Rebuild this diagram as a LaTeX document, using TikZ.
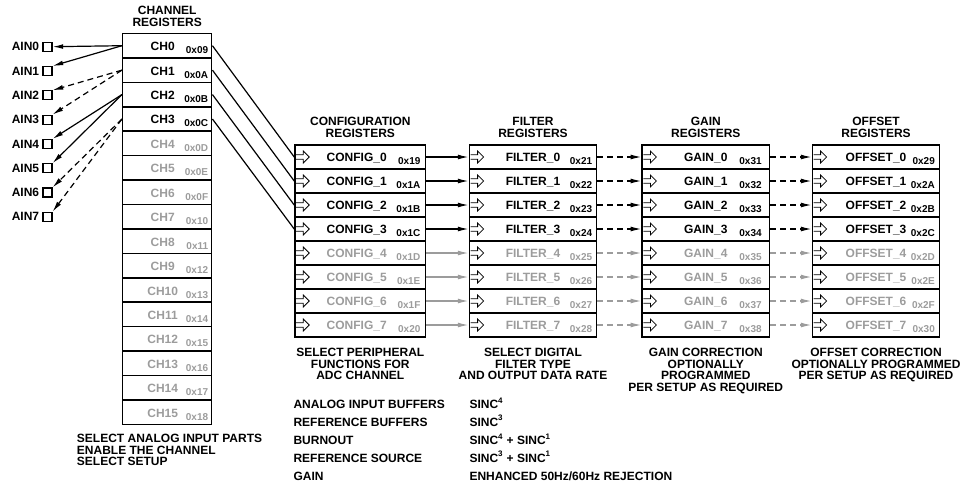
\documentclass[tikz,border=0pt]{standalone}
\usepackage{fontspec}
\setmainfont{Liberation Sans}
\usetikzlibrary{arrows.meta,positioning,calc}
\definecolor{regray}{HTML}{9C9C9C}

\begin{document}
\begin{tikzpicture}[
  x=0.75pt, y=-0.75pt,
  every node/.style={font=\bfseries\fontsize{9}{8.6}\selectfont, inner sep=0pt},
  chrow/.style={draw, line width=1.1pt, minimum width=66.75pt, minimum height=18.32pt},
  cfgrow/.style={draw, line width=1.1pt, minimum width=98pt, minimum height=18pt},
  regrow/.style={draw, line width=1.1pt, minimum width=95.5pt, minimum height=18pt},
  regname/.style={anchor=base},
  hex/.style={anchor=base east, font=\bfseries\fontsize{7.5}{8}\selectfont},
  regtitle/.style={align=center},
  note/.style={align=center, font=\bfseries\fontsize{9}{8.75}\selectfont},
  ainbox/.style={draw, line width=0.8pt, minimum size=6.75pt},
  arr/.style={-{Latex[length=8pt,width=3.6pt]}, line width=0.9pt},
  dasharr/.style={arr, dash pattern=on 4.5pt off 3pt},
  wire/.style={line width=0.9pt},
  inarrow/.pic={\draw[line width=0.6pt] (0,-2.2)--(7,-2.2)--(7,-6)--(13,0)--(7,6)--(7,2.2)--(0,2.2);}
]
\useasboundingbox (0,0) rectangle (960,483);

% channel registers
\foreach \n/\hx in {0/09,1/0A,2/0B,3/0C,4/0D,5/0E,6/0F,7/10,8/11,9/12,10/13,11/14,12/15,13/16,14/17,15/18} {
  \ifnum\n<4 \def\tc{black}\else\def\tc{regray}\fi
  \node[chrow] (ch\n) at (167.2, 45.7+24.43*\n) {};
  \node[regname, text=\tc] (chname\n) at ($(ch\n.center)+(-4.5,5)$) {CH\n};
  \node[hex, text=\tc] (chhex\n) at ($(ch\n.east)+(-4,8)$) {0x\hx};
}
\node[regtitle, above=4.6pt of ch0] (chtitle) {CHANNEL\\REGISTERS};

% analog inputs
\foreach \n in {0,...,7} {
  \node[ainbox] (ain\n) at (47.5, 46.7+24.3*\n) {};
  \node[left=2.3pt of ain\n] (ainlbl\n) {AIN\n};
}
\draw[arr] (ch0.west) -- (ain0.east);
\draw[arr] (ch0.west) -- (ain1.north east);
\draw[dasharr] (ch1.west) -- (ain2.north east);
\draw[dasharr] (ch1.west) -- (ain3.north east);
\draw[arr] (ch2.west) -- (ain4.north east);
\draw[arr] (ch2.west) -- (ain5.north east);
\draw[dasharr] (ch3.west) -- (ain6.north east);
\draw[dasharr] (ch3.west) -- (ain7.north east);

% setup registers
\foreach \n/\cf/\fl/\gn/\of in {0/19/21/31/29,1/1A/22/32/2A,2/1B/23/33/2B,3/1C/24/34/2C,4/1D/25/35/2D,5/1E/26/36/2E,6/1F/27/37/2F,7/20/28/38/30} {
  \ifnum\n<4 \def\tc{black}\else\def\tc{regray}\fi
  \node[cfgrow] (cfg\n) at (360.3, 157+24*\n) {};
  \node[regrow] (flt\n) at (533, 157+24*\n) {};
  \node[regrow] (gain\n) at (705.8, 157+24*\n) {};
  \node[regrow] (ofs\n) at (876, 157+24*\n) {};
  \foreach \r in {cfg,flt,gain,ofs} \pic at ($(\r\n.west)+(2,0)$) {inarrow};
  \node[regname, text=\tc] (cfgname\n) at ($(cfg\n.center)+(-3.6,4.7)$) {CONFIG\_\n};
  \node[regname, text=\tc] (fltname\n) at ($(flt\n.center)+(0,4.7)$) {FILTER\_\n};
  \node[regname, text=\tc] (gainname\n) at ($(gain\n.center)+(0,4.7)$) {GAIN\_\n};
  \node[regname, text=\tc] (ofsname\n) at ($(ofs\n.center)+(0,4.7)$) {OFFSET\_\n};
  \node[hex, text=\tc] (cfghex\n) at ($(cfg\n.east)+(-5.7,7.3)$) {0x\cf};
  \node[hex, text=\tc] (flthex\n) at ($(flt\n.east)+(-5,7.3)$) {0x\fl};
  \node[hex, text=\tc] (gainhex\n) at ($(gain\n.east)+(-8.3,7.3)$) {0x\gn};
  \node[hex, text=\tc] (ofshex\n) at ($(ofs\n.east)+(-5.3,7.3)$) {0x\of};
  \draw[arr, \tc] (cfg\n.east) -- (flt\n.west);
  \draw[dasharr, \tc] (flt\n.east) -- (gain\n.west);
  \draw[dasharr, \tc] (gain\n.east) -- (ofs\n.west);
}
\foreach \n in {0,...,3} \draw[wire] (ch\n.east) -- (cfg\n.west);

\node[regtitle, above=5pt of cfg0] (cfgtitle) {CONFIGURATION\\REGISTERS};
\node[regtitle, above=5pt of flt0] (flttitle) {FILTER\\REGISTERS};
\node[regtitle, above=5pt of gain0] (gaintitle) {GAIN\\REGISTERS};
\node[regtitle, above=5pt of ofs0] (ofstitle) {OFFSET\\REGISTERS};

% captions
\node[note, align=left, anchor=north west] (chnote) at (76.7, 434) {SELECT ANALOG INPUT PARTS\\ENABLE THE CHANNEL\\SELECT SETUP};
\node[note, below=7.5pt of cfg7] (cfgnote) {SELECT PERIPHERAL\\FUNCTIONS FOR\\ADC CHANNEL};
\node[note, below=7.5pt of flt7] (fltnote) {SELECT DIGITAL\\FILTER TYPE\\AND OUTPUT DATA RATE};
\node[note, below=7.5pt of gain7] (gainnote) {GAIN CORRECTION\\OPTIONALLY\\PROGRAMMED\\PER SETUP AS REQUIRED};
\node[note, below=7.5pt of ofs7] (ofsnote) {OFFSET CORRECTION\\OPTIONALLY PROGRAMMED\\PER SETUP AS REQUIRED};

\node[anchor=base west] (opt1) at (293.3, 408.3) {ANALOG INPUT BUFFERS};
\node[anchor=base west] (opt2) at (293.3, 426) {REFERENCE BUFFERS};
\node[anchor=base west] (opt3) at (293.3, 444.3) {BURNOUT};
\node[anchor=base west] (opt4) at (293.3, 462) {REFERENCE SOURCE};
\node[anchor=base west] (opt5) at (293.3, 480) {GAIN};
\node[anchor=base west] (sinc1) at (469.3, 408.3) {SINC\textsuperscript{4}};
\node[anchor=base west] (sinc2) at (469.3, 426) {SINC\textsuperscript{3}};
\node[anchor=base west] (sinc3) at (469.3, 444.3) {SINC\textsuperscript{4} + SINC\textsuperscript{1}};
\node[anchor=base west] (sinc4) at (469.3, 462) {SINC\textsuperscript{3} + SINC\textsuperscript{1}};
\node[anchor=base west] (sinc5) at (469.3, 480) {ENHANCED 50Hz/60Hz REJECTION};

\end{tikzpicture}
\end{document}
